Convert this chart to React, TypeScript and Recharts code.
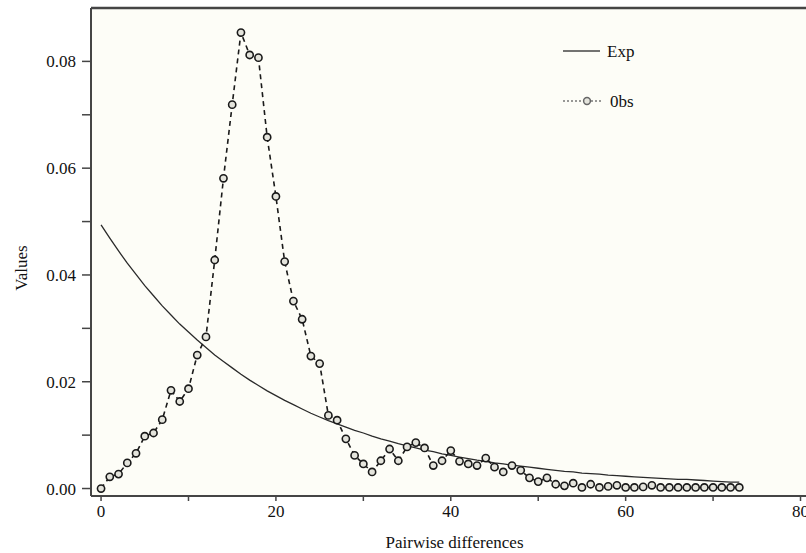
import React from "react";
import {
  LineChart,
  Line,
  XAxis,
  YAxis,
  CartesianGrid,
  ReferenceLine,
} from "recharts";

// pairwise differences (x)
const pairwiseDiffs = [
  0, 1, 2, 3, 4, 5, 6, 7, 8, 9, 10, 11, 12, 13, 14, 15, 16, 17, 18, 19, 20,
  21, 22, 23, 24, 25, 26, 27, 28, 29, 30, 31, 32, 33, 34, 35, 36, 37, 38, 39,
  40, 41, 42, 43, 44, 45, 46, 47, 48, 49, 50, 51, 52, 53, 54, 55, 56, 57, 58,
  59, 60, 61, 62, 63, 64, 65, 66, 67, 68, 69, 70, 71, 72, 73,
];

// expected mismatch distribution
const expValues = [
  0.0494, 0.0469, 0.0445, 0.0422, 0.0401, 0.038, 0.0361, 0.0342, 0.0325,
  0.0308, 0.0293, 0.0278, 0.0264, 0.025, 0.0238, 0.0226, 0.0214, 0.0203,
  0.0193, 0.0183, 0.0174, 0.0165, 0.0157, 0.0149, 0.0141, 0.0134, 0.0127,
  0.0121, 0.0115, 0.0109, 0.0104, 0.0098, 0.0093, 0.0089, 0.0084, 0.008,
  0.0076, 0.0072, 0.0069, 0.0065, 0.0062, 0.0059, 0.0056, 0.0053, 0.0051,
  0.0048, 0.0046, 0.0044, 0.0042, 0.004, 0.0038, 0.0036, 0.0034, 0.0032,
  0.0031, 0.0029, 0.0028, 0.0027, 0.0025, 0.0024, 0.0023, 0.0022, 0.0021,
  0.002, 0.0019, 0.0018, 0.0017, 0.0017, 0.0016, 0.0015, 0.0014, 0.0013,
  0.0012, 0.0012,
];

// observed mismatch distribution
const obsValues = [
  0.0, 0.0022, 0.0027, 0.0048, 0.0066, 0.0098, 0.0104, 0.0129, 0.0184,
  0.0163, 0.0187, 0.025, 0.0284, 0.0428, 0.0581, 0.0719, 0.0854, 0.0812,
  0.0807, 0.0658, 0.0547, 0.0425, 0.0351, 0.0317, 0.0248, 0.0234, 0.0137,
  0.0128, 0.0093, 0.0062, 0.0046, 0.0031, 0.0052, 0.0074, 0.0052, 0.0078,
  0.0086, 0.0076, 0.0043, 0.0052, 0.0071, 0.0051, 0.0046, 0.0043, 0.0057,
  0.004, 0.0031, 0.0043, 0.0034, 0.002, 0.0013, 0.002, 0.0008, 0.0005,
  0.001, 0.0002, 0.0008, 0.0002, 0.0004, 0.0006, 0.0002, 0.0002, 0.0003,
  0.0006, 0.0002, 0.0002, 0.0002, 0.0002, 0.0002, 0.0002, 0.0002, 0.0002,
  0.0002, 0.0002,
];

const xTicks = [0, 10, 20, 30, 40, 50, 60, 70, 80];
const yTicks = [0, 0.01, 0.02, 0.03, 0.04, 0.05, 0.06, 0.07, 0.08];

const X_DOMAIN: [number, number] = [-1.15, 82];
const Y_DOMAIN: [number, number] = [-0.0014, 0.09];

const FONT = "'Liberation Serif', 'Times New Roman', serif";
const INK = "#1a1a1a";
const AXIS = "#454545";

const data = pairwiseDiffs.map((x, i) => ({
  x,
  exp: expValues[i],
  obs: obsValues[i],
}));

const ObsDot = (props: any) => {
  const { cx, cy, index } = props;
  if (cx == null || cy == null) return null;
  return (
    <circle
      key={`dot-${index}`}
      cx={cx}
      cy={cy}
      r={3.6}
      fill="#e4e4dc"
      stroke={INK}
      strokeWidth={1.6}
    />
  );
};

export default function App() {
  const tickStyle = { fontFamily: FONT, fontSize: 17, fill: "#111" };

  return (
    <div
      style={{
        position: "fixed",
        left: 0,
        top: 0,
        width: 806,
        height: 553,
        overflow: "hidden",
        background: "#ffffff",
      }}>
      <LineChart
        width={818}
        height={553}
        data={data}
        margin={{ top: 8, right: 0, left: 0, bottom: 0 }}>
        <CartesianGrid
          horizontal={false}
          vertical={false}
          fill="#fdfdf7"
          stroke="none"
        />
        <XAxis
          type="number"
          dataKey="x"
          domain={X_DOMAIN}
          allowDataOverflow
          ticks={xTicks}
          interval={0}
          height={57}
          tickSize={5}
          tickMargin={4}
          tick={tickStyle}
          tickFormatter={(v: number) => (v % 20 === 0 ? String(v) : "")}
          axisLine={{ stroke: AXIS, strokeWidth: 2 }}
          tickLine={{ stroke: AXIS, strokeWidth: 1.5 }}
          label={{
            value: "Pairwise differences",
            position: "insideBottom",
            offset: 5,
            style: { fontFamily: FONT, fontSize: 17, fill: "#111" },
          }}
        />
        <YAxis
          type="number"
          domain={Y_DOMAIN}
          allowDataOverflow
          ticks={yTicks}
          interval={0}
          width={91}
          tickSize={9}
          tickMargin={6}
          tick={tickStyle}
          tickFormatter={(v: number, i: number) =>
            i % 2 === 0 ? v.toFixed(2) : ""
          }
          axisLine={{ stroke: AXIS, strokeWidth: 2 }}
          tickLine={{ stroke: AXIS, strokeWidth: 1.5 }}
          label={{
            content: () => (
              <text
                x={27}
                y={268}
                transform="rotate(-90 27 268)"
                textAnchor="middle"
                style={{ fontFamily: FONT, fontSize: 17, fill: "#111" }}>
                Values
              </text>
            ),
          }}
        />
        <ReferenceLine
          y={Y_DOMAIN[1]}
          stroke={AXIS}
          strokeWidth={2.5}
          ifOverflow="visible"
        />
        <Line
          type="linear"
          dataKey="exp"
          stroke="#2a2a2a"
          strokeWidth={1.3}
          dot={false}
          isAnimationActive={false}
        />
        <Line
          type="linear"
          dataKey="obs"
          stroke={INK}
          strokeWidth={1.6}
          strokeDasharray="5 4"
          dot={<ObsDot />}
          isAnimationActive={false}
        />
      </LineChart>

      <svg
        width={806}
        height={553}
        style={{ position: "absolute", left: 0, top: 0, pointerEvents: "none" }}>
        <line x1={563} y1={51} x2={600} y2={51} stroke="#444" strokeWidth={1.6} />
        <text x={607} y={57} style={{ fontFamily: FONT, fontSize: 17, fill: "#111" }}>
          Exp
        </text>
        <line
          x1={563}
          y1={101}
          x2={603}
          y2={101}
          stroke="#777"
          strokeWidth={1.4}
          strokeDasharray="2 2"
        />
        <circle cx={587} cy={101} r={3.4} fill="#e4e4dc" stroke="#666" strokeWidth={1.5} />
        <text x={610} y={107} style={{ fontFamily: FONT, fontSize: 17, fill: "#111" }}>
          0bs
        </text>
      </svg>
    </div>
  );
}
